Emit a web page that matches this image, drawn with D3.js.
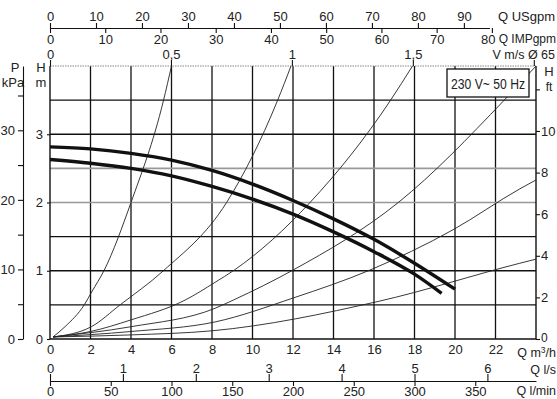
<!DOCTYPE html>
<html><head><meta charset="utf-8">
<script src="https://cdn.jsdelivr.net/npm/d3@7"></script>
<style>
body{margin:0;background:#fff}
svg{display:block}
text{font-family:"Liberation Sans",Arial,Helvetica,sans-serif;fill:#222}
</style>
</head><body>
<svg id="c" width="557" height="399"></svg>
<script>
// ---------- data ----------
const qTicks = [0,2,4,6,8,10,12,14,16,18,20,22];
const hTicks = [0,1,2,3];
const hGrid = [0.5,1,1.5,2,2.5,3,3.5];
const hGridGrey = [2,2.5];
const pTicks = [0,5,10,15,20,25,30,35];
const pLabels = [0,10,20,30];
const ftTicks = [0,2,4,6,8,10,12];
const ftLabels = [0,2,4,6,8,10];
const usTicks = [0,10,20,30,40,50,60,70,80,90];
const impTicks = [0,10,20,30,40,50,60,70,80];
const vTicks = [0,0.5,1,1.5,2];
const vLabels = ["0","0,5","1","1,5",""];
const lsTicks = [0,1,2,3,4,5,6];
const lminTicks = [0,50,100,150,200,250,300,350];
const legendText = "230 V~ 50 Hz";

// pump curves (Q m3/h, H m)
const pumpHiQ = [0,2,4,6,8,10,12,14,16,18,20];
const pumpHiH = [2.815,2.785,2.72,2.62,2.47,2.27,2.03,1.76,1.46,1.11,0.73];
const pumpLoQ = [0,2,4,6,8,10,12,14,16,18,19.34];
const pumpLoH = [2.63,2.575,2.50,2.39,2.235,2.05,1.83,1.57,1.28,0.95,0.67];

// system / velocity curves
const sys1Q = [0.15,0.74,1.69,2.06,2.68,4.0,5.6,6.0];
const sys1H = [0.03,0.18,0.5,0.69,1.01,2.0,3.49,4.0];
const sys2Q = [0.15,2.04,3.46,5.6,8.72,11.23,11.9];
const sys2H = [0.03,0.18,0.5,1.0,2.0,3.49,4.0];
const sys3Q = [0.15,2,4,6.67,8.15,9.1,12.84,16.8,17.9];
const sys3H = [0.03,0.11,0.28,0.57,0.83,1.01,2.0,3.49,4.0];
const sys4Q = [0.15,4,8.15,9.05,12,17.2,22.4,24];
const sys4H = [0.03,0.18,0.45,0.57,1.01,2.0,3.49,4.0];
const sys5Q = [0.15,4,8.15,12,15.8,19.9,23.2,24];
const sys5H = [0.03,0.11,0.25,0.6,1.01,1.6,2.2,2.33];
const sys6Q = [0.15,4,8,16.2,23.2,24];
const sys6H = [0.03,0.06,0.12,0.55,1.11,1.17];

// unit conversions (relative to m3/h and m)
const US_GPM = 0.2271, IMP_GPM = 0.27277, V_M3H = 11.946, LS = 3.6, LMIN = 0.06;
const KPA_M = 1/9.81, FT_M = 0.3048;

// ---------- scales ----------
const svg = d3.select("#c");
const X0 = 50, X1 = 536, Y0 = 339, Y1 = 66;
const QMAX = 24, HMAX = 4;
const x = d3.scaleLinear().domain([0,QMAX]).range([X0,X1]);
const y = d3.scaleLinear().domain([0,HMAX]).range([Y0,Y1]);

const topEndQ = 21.7; // m3/h where the top gpm line ends
const xUS = d3.scaleLinear().domain([0, topEndQ/US_GPM]).range([X0, x(topEndQ)]);
const xIMP = d3.scaleLinear().domain([0, topEndQ/IMP_GPM]).range([X0, x(topEndQ)]);
const xV = d3.scaleLinear().domain([0, QMAX/V_M3H]).range([X0, X1]);
const xLS = d3.scaleLinear().domain([0, QMAX/LS]).range([X0, X1]);
const xLMIN = d3.scaleLinear().domain([0, QMAX/LMIN]).range([X0, X1]);
const yP = d3.scaleLinear().domain([0, HMAX/KPA_M]).range([Y0,Y1]);
const yFt = d3.scaleLinear().domain([0, HMAX/FT_M]).range([Y0,Y1]);

const fmt = d => String(d);
function styleAxis(g, fs){
  g.attr("font-family", null).attr("font-size", null);
  g.selectAll("text").style("font-size", (fs||13)+"px").attr("fill","#222");
  g.selectAll("line,path").attr("stroke","#111").attr("stroke-width",1.1);
}

// ---------- grid ----------
const grid = svg.append("g");
grid.selectAll("line.v").data(qTicks.filter(d=>d>0)).join("line")
  .attr("x1",d=>x(d)).attr("x2",d=>x(d)).attr("y1",Y1).attr("y2",Y0)
  .attr("stroke","#111").attr("stroke-width",1.3);
grid.selectAll("line.h").data(hGrid).join("line")
  .attr("x1",X0).attr("x2",X1).attr("y1",d=>y(d)).attr("y2",d=>y(d))
  .attr("stroke",d=>hGridGrey.includes(d)?"#999":"#111")
  .attr("stroke-width",d=>hGridGrey.includes(d)?1.6:1.3);
grid.append("line").attr("x1",X0).attr("x2",X1).attr("y1",y(HMAX)).attr("y2",y(HMAX))
  .attr("stroke","#888").attr("stroke-width",1.2).attr("stroke-dasharray","1.5,1");
grid.append("line").attr("x1",X0).attr("x2",X0).attr("y1",Y1).attr("y2",Y0).attr("stroke","#111").attr("stroke-width",1.4);
grid.append("line").attr("x1",X1).attr("x2",X1).attr("y1",Y1).attr("y2",Y0).attr("stroke","#111").attr("stroke-width",1.4);
grid.append("line").attr("x1",X0).attr("x2",X1).attr("y1",Y0).attr("y2",Y0).attr("stroke","#111").attr("stroke-width",1.6);

// ---------- system curves ----------
const line = d3.line().x(d=>x(d[0])).y(d=>y(d[1])).curve(d3.curveMonotoneX);
const sysSets = [[sys1Q,sys1H],[sys2Q,sys2H],[sys3Q,sys3H],[sys4Q,sys4H],[sys5Q,sys5H],[sys6Q,sys6H]];
svg.append("g").selectAll("path").data(sysSets).join("path")
  .attr("d",s=>line(s[0].map((q,i)=>[q,s[1][i]])))
  .attr("fill","none").attr("stroke","#222").attr("stroke-width",0.9);

// ---------- pump curves ----------
const pumpSets = [[pumpHiQ,pumpHiH],[pumpLoQ,pumpLoH]];
svg.append("g").selectAll("path").data(pumpSets).join("path")
  .attr("d",s=>line(s[0].map((q,i)=>[q,s[1][i]])))
  .attr("fill","none").attr("stroke","#111").attr("stroke-width",3.4);

// ---------- axes ----------
const gQ = svg.append("g").attr("transform",`translate(0,${Y0})`)
  .call(d3.axisBottom(x).tickValues(qTicks).tickSize(0).tickPadding(6).tickFormat(fmt));
styleAxis(gQ); gQ.select(".domain").remove();

const gH = svg.append("g").attr("transform",`translate(${X0},0)`)
  .call(d3.axisLeft(y).tickValues(hTicks).tickSize(3).tickPadding(4).tickSizeOuter(0).tickFormat(fmt));
styleAxis(gH); gH.select(".domain").remove();

const gP = svg.append("g").attr("transform",`translate(23,0)`)
  .call(d3.axisLeft(yP).tickValues(pTicks).tickSize(5).tickPadding(3).tickSizeOuter(0)
    .tickFormat(d=>pLabels.includes(d)?fmt(d):""));
styleAxis(gP);

const gF = svg.append("g").attr("transform",`translate(${X1},0)`)
  .call(d3.axisRight(yFt).tickValues(ftTicks).tickSize(4).tickPadding(1).tickSizeOuter(0)
    .tickFormat(d=>ftLabels.includes(d)?fmt(d):""));
styleAxis(gF); gF.select(".domain").remove();
gF.selectAll(".tick").filter(d=>d===0).select("text").attr("dy","0.2em").style("font-size","12px");

const gUS = svg.append("g").attr("transform","translate(0,28)")
  .call(d3.axisTop(xUS).tickValues(usTicks).tickSize(5).tickPadding(2).tickSizeOuter(0).tickFormat(fmt));
styleAxis(gUS);
const gIMP = svg.append("g").attr("transform","translate(0,28)")
  .call(d3.axisBottom(xIMP).tickValues(impTicks).tickSize(5).tickPadding(2).tickSizeOuter(0).tickFormat(fmt));
styleAxis(gIMP); gIMP.select(".domain").remove();
gIMP.selectAll(".tick").filter(d=>d===80).select("text").attr("text-anchor","end").attr("x",3);

const gV = svg.append("g").attr("transform",`translate(0,${Y1})`)
  .call(d3.axisTop(xV).tickValues(vTicks).tickSize(6).tickPadding(1).tickFormat((d,i)=>vLabels[i]));
styleAxis(gV); gV.select(".domain").remove();

const gLS = svg.append("g").attr("transform","translate(0,381)")
  .call(d3.axisTop(xLS).tickValues(lsTicks).tickSize(7).tickPadding(1).tickSizeOuter(0).tickFormat(fmt));
styleAxis(gLS);
const gLM = svg.append("g").attr("transform","translate(0,381)")
  .call(d3.axisBottom(xLMIN).tickValues(lminTicks).tickSize(5).tickPadding(1).tickSizeOuter(0).tickFormat(fmt));
styleAxis(gLM); gLM.select(".domain").remove();

// ---------- unit labels ----------
const lab = svg.append("g").style("font-size","13px");
function t(xx,yy,s,anchor){ return lab.append("text").attr("x",xx).attr("y",yy).attr("text-anchor",anchor||"start").text(s); }
t(555,21,"Q USgpm","end");
t(556,43,"Q IMPgpm","end").style("font-size","12px");
t(555,59,"V m/s Ø 65","end").style("font-size","12.5px");
t(15,72,"P","middle");
t(13,87,"kPa","middle");
t(41,72,"H","middle");
t(41,87,"m","middle");
t(549,76,"H","middle");
t(549,91,"ft","middle").style("font-size","12px");
const qm = t(556,357,"Q m","end").style("font-size","12.5px");
qm.append("tspan").attr("dy",-4).style("font-size","8.5px").text("3");
qm.append("tspan").attr("dy",4).text("/h");
t(556,374,"Q l/s","end").style("font-size","12.5px");
t(556,395,"Q l/min","end").style("font-size","12.5px");

// ---------- legend box ----------
svg.append("rect").attr("x",447).attr("y",69).attr("width",82).attr("height",28)
  .attr("fill","#fff").attr("stroke","#111").attr("stroke-width",1.3);
svg.append("text").attr("x",451).attr("y",89).style("font-size","14.5px")
  .attr("textLength",74).attr("lengthAdjust","spacingAndGlyphs").text(legendText);
</script>
</body></html>
